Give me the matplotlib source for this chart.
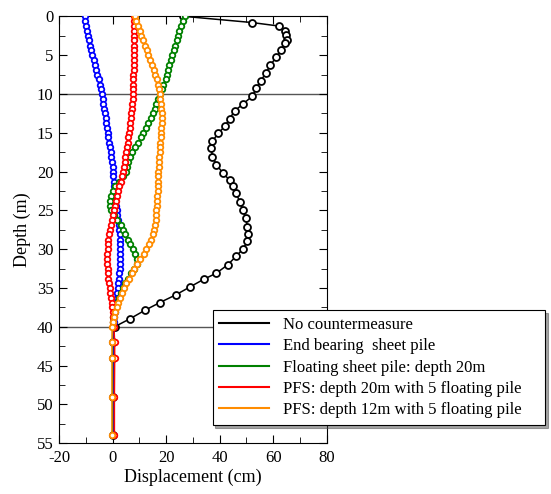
import matplotlib

matplotlib.use("Agg")
import matplotlib.pyplot as plt
from matplotlib.ticker import MultipleLocator

plt.rcParams["font.family"] = ["Liberation Serif", "DejaVu Serif"]
plt.rcParams["font.size"] = 12
plt.rcParams["axes.unicode_minus"] = False

# depth nodes of the unreinforced run (m)
depth_none = [0, 0.8, 1.25, 1.9, 2.4, 3.0, 3.5, 4.3, 5.3, 6.3, 7.3, 8.3, 9.3, 10.3,
              11.3, 12.2, 13.2, 14.2, 15.1, 16.1, 17.0, 18.1, 19.1, 20.2, 21.1,
              21.9, 22.8, 23.9, 24.9, 26.0, 27.1, 28.1, 29.0, 30.0, 30.9, 32.0,
              33.1, 33.9, 34.9, 35.9, 36.9, 37.9, 39.0, 40, 42, 44, 49, 54]
disp_none = [26.5, 52.0, 62.0, 64.3, 64.8, 65.2, 64.3, 63.1, 61.1, 58.9, 57.4, 55.3,
             53.7, 52.2, 48.7, 45.6, 43.7, 41.9, 39.4, 37.3, 36.9, 37.3, 38.8, 41.2,
             43.7, 44.9, 46.2, 47.5, 48.7, 49.7, 50.4, 50.6, 50.4, 48.7, 46.2, 43.1,
             38.8, 34.0, 28.8, 23.6, 17.6, 12.0, 6.4, 0.8, 0.3, 0.3, 0.2, 0.2]

# depth nodes shared by the sheet pile runs (m)
depth = [0, 0.6, 1.3, 1.9, 2.5, 3.1, 3.8, 4.4, 5.0, 5.6, 6.3, 6.9, 7.5, 8.1, 8.8,
         9.4, 10.0, 10.6, 11.3, 11.9, 12.5, 13.1, 13.8, 14.4, 15.0, 15.6, 16.3,
         16.9, 17.5, 18.1, 18.8, 19.4, 20.0, 20.6, 21.3, 21.9, 22.5, 23.1, 23.8,
         24.4, 25.0, 25.6, 26.3, 26.9, 27.5, 28.1, 28.8, 29.4, 30.0, 30.6, 31.3,
         31.9, 32.5, 33.1, 33.8, 34.4, 35.0, 35.6, 36.3, 36.9, 37.5, 38.1, 38.8,
         39.4, 40.0, 42, 44, 49, 54]

disp_end = [-10.3, -10.1, -9.8, -9.5, -9.2, -8.8, -8.4, -8.0, -7.5, -7.0, -6.6, -6.1,
            -5.7, -5.2, -4.8, -4.3, -3.9, -3.6, -3.4, -3.1, -2.9, -2.6, -2.3, -2.0,
            -1.8, -1.5, -1.2, -0.9, -0.6, -0.4, -0.2, 0.0, 0.1, 0.2, 0.4, 0.5, 0.7,
            0.9, 1.1, 1.4, 1.6, 1.8, 2.1, 2.3, 2.5, 2.7, 2.8, 2.9, 2.9, 2.9, 2.9,
            2.8, 2.7, 2.6, 2.4, 2.2, 2.0, 1.8, 1.5, 1.3, 1.0, 0.8, 0.6, 0.4, 0.3,
            0.3, 0.3, 0.3, 0.3]

disp_float = [26.9, 26.3, 25.6, 25.0, 24.5, 24.0, 23.4, 22.8, 22.3, 21.7, 21.2, 20.7,
              20.3, 19.8, 19.0, 18.3, 17.6, 17.0, 16.4, 15.8, 15.1, 14.2, 13.3, 12.4,
              11.5, 10.6, 9.5, 8.3, 7.1, 6.5, 5.9, 5.5, 5.1, 4.0, 2.6, 1.0, 0.0, -0.6,
              -1.1, -1.0, -0.5, 0.5, 1.6, 3.0, 4.0, 4.8, 5.8, 6.6, 7.5, 8.3, 9.0, 9.2,
              8.2, 7.0, 5.8, 4.8, 4.0, 3.2, 2.5, 1.6, 1.0, 0.6, 0.3, 0.1, 0.0,
              0.0, 0.0, 0.0, 0.0]

disp_pfs20 = [8.0, 8.0, 8.0, 8.0, 8.0, 8.0, 8.0, 7.9, 7.9, 7.9, 7.9, 7.9, 7.8, 7.8,
              7.8, 7.7, 7.7, 7.6, 7.4, 7.2, 7.0, 6.8, 6.6, 6.4, 6.2, 5.9, 5.6, 5.3,
              5.1, 4.8, 4.5, 4.2, 3.8, 3.4, 3.0, 2.6, 2.1, 1.7, 1.3, 0.9, 0.4, 0.1,
              -0.3, -0.7, -1.0, -1.3, -1.5, -1.7, -1.8, -1.9, -1.9, -1.9, -1.8, -1.7,
              -1.5, -1.3, -1.1, -0.8, -0.6, -0.3, -0.1, 0.0, 0.2, 0.3, 0.5,
              0.8, 0.8, 0.7, 0.7]

disp_pfs12 = [8.4, 8.8, 9.5, 10.1, 10.7, 11.3, 12.0, 12.7, 13.4, 14.1, 14.8, 15.4,
              16.0, 16.5, 17.0, 17.4, 17.7, 17.9, 18.1, 18.2, 18.3, 18.3, 18.3, 18.2,
              18.1, 18.0, 17.9, 17.7, 17.6, 17.4, 17.3, 17.2, 17.1, 17.0, 16.9, 16.8,
              16.8, 16.7, 16.6, 16.5, 16.4, 16.3, 16.2, 15.9, 15.6, 15.0, 14.3, 13.5,
              12.6, 11.6, 10.4, 9.2, 8.2, 7.3, 6.2, 5.2, 4.4, 3.5, 2.8, 2.1, 1.5, 1.0,
              0.5, 0.1, -0.1, -0.2, -0.2, -0.2, -0.2]

labels = ["No countermeasure", "End bearing  sheet pile",
          "Floating sheet pile: depth 20m",
          "PFS: depth 20m with 5 floating pile",
          "PFS: depth 12m with 5 floating pile"]
colors = ["black", "#0000ff", "#008000", "#ff0000", "#ff8c00"]
marker_sizes = [5.0, 4.0, 4.0, 4.0, 4.0]

series = [(disp_none, depth_none), (disp_end, depth), (disp_float, depth),
          (disp_pfs20, depth), (disp_pfs12, depth)]

fig = plt.figure(figsize=(5.51, 4.94), dpi=100)
ax = fig.add_axes([0.107, 0.103, 0.486, 0.864])

ax.axhline(10, color="#555555", lw=1.0, zorder=1)
ax.axhline(40, color="#555555", lw=1.0, zorder=1)

for (x, y), lab, c, ms in zip(series, labels, colors, marker_sizes):
    ax.plot(x, y, color=c, lw=1.1, marker="o", ms=ms, mfc="white",
            mec=c, mew=1.3, label=lab, zorder=3)

ax.set_xlim(-20, 80)
ax.set_ylim(55, 0)
ax.xaxis.set_major_locator(MultipleLocator(20))
ax.xaxis.set_minor_locator(MultipleLocator(10))
ax.yaxis.set_major_locator(MultipleLocator(5))
ax.yaxis.set_minor_locator(MultipleLocator(2.5))
ax.tick_params(which="both", direction="in", top=True, right=True)
ax.tick_params(which="major", length=6, labelsize=12)
ax.tick_params(which="minor", length=4)
ax.tick_params(axis="y", pad=4)
ax.tick_params(axis="x", pad=5)
ax.set_xlabel("Displacement (cm)", fontsize=13, labelpad=2)
ax.set_ylabel("Depth (m)", fontsize=13, labelpad=4)

handles = [plt.Line2D([], [], color=c, lw=1.5) for c in colors]
leg = fig.legend(handles, labels, loc="lower left",
                 bbox_to_anchor=(0.386, 0.140, 0.603, 0.241), mode="expand",
                 fontsize=12, frameon=True, fancybox=False, shadow=True,
                 edgecolor="black", handlelength=3.0, labelspacing=0.32,
                 borderaxespad=0.0)
leg.get_frame().set_linewidth(0.8)

fig.savefig("out.png", dpi=100)
